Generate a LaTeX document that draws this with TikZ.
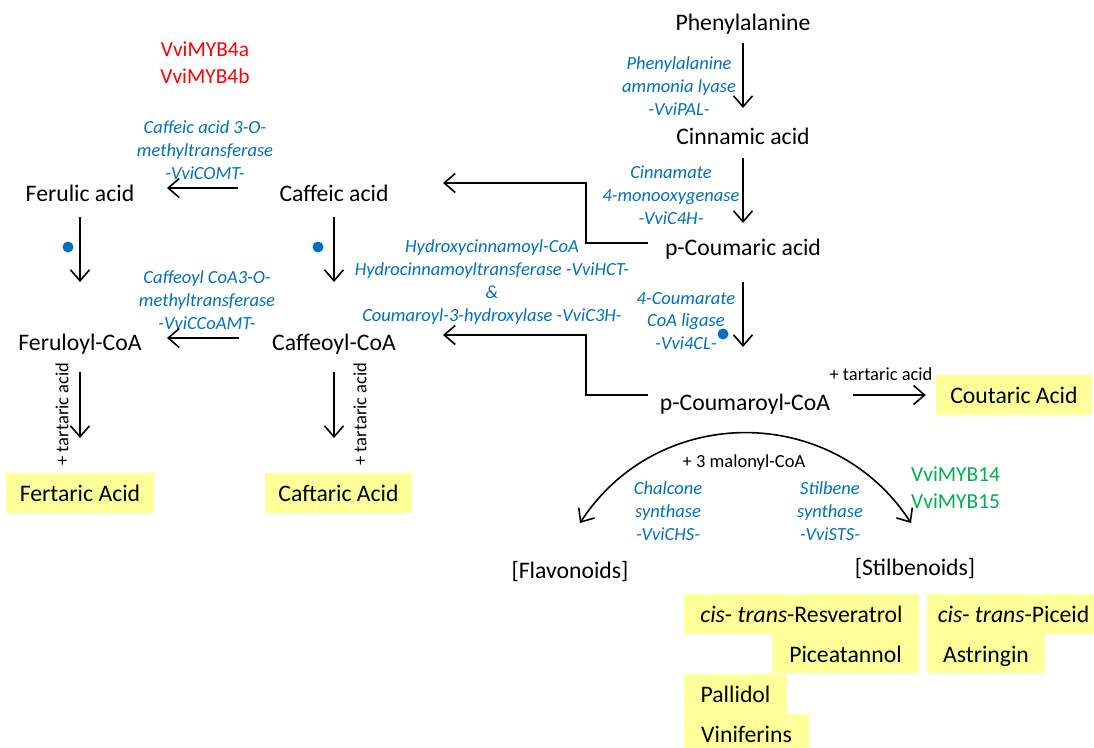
\documentclass[tikz,border=0pt]{standalone}
\usepackage{fontspec}
\setmainfont{Carlito}
\usetikzlibrary{arrows.meta,calc}
\definecolor{enzblue}{RGB}{0,112,192}
\definecolor{regred}{RGB}{255,0,0}
\definecolor{reggreen}{RGB}{0,176,80}
\definecolor{prodyellow}{RGB}{255,255,153}

\begin{document}
\begin{tikzpicture}[x=1pt,y=-1pt,
  cmpd/.style={inner sep=0pt, font=\fontsize{23.7}{28}\selectfont, text height=19pt, text depth=2pt},
  enz/.style={inner sep=0pt, align=center, text=enzblue, font=\fontsize{18.5}{22.8}\selectfont\itshape},
  note/.style={inner sep=0pt, font=\fontsize{18.5}{22}\selectfont},
  prod/.style={cmpd, fill=prodyellow, minimum height=40pt},
  reg/.style={inner sep=0pt, font=\fontsize{21.4}{27}\selectfont},
  arr/.style={line width=1.6pt, -{Straight Barb[length=11pt,width=19pt]}},
  biarr/.style={line width=1.6pt, {Straight Barb[length=11pt,width=19pt]}-{Straight Barb[length=11pt,width=19pt]}},
  site/.style={circle, fill=enzblue, inner sep=0pt, minimum size=11pt},
]
\useasboundingbox (0,0) rectangle (1094,747);
\fill[white] (0,0) rectangle (1094,747);

% compounds
\node[cmpd] (phe) at (743,22) {Phenylalanine};
\node[cmpd] (cin) at (743,136) {Cinnamic acid};
\node[cmpd] (pcoum) at (743,247) {p-Coumaric acid};
\node[cmpd] (pcoumcoa) at (745,402) {p-Coumaroyl-CoA};
\node[cmpd] (caffeic) at (334,193) {Caffeic acid};
\node[cmpd] (ferulic) at (80,193) {Ferulic acid};
\node[cmpd] (caffeoyl) at (334,342) {Caffeoyl-CoA};
\node[cmpd] (feruloyl) at (80,342) {Feruloyl-CoA};
\node[cmpd] (flav) at (570,570) {[Flavonoids]};
\node[cmpd] (stilb) at (915,567) {[Stilbenoids]};

% end products
\node[prod, minimum width=156pt] (coutaric) at (1014,395) {Coutaric Acid};
\node[prod, minimum width=148pt] (fertaric) at (80,493) {Fertaric Acid};
\node[prod, minimum width=147pt] (caftaric) at (338.5,493) {Caftaric Acid};
\node[prod, minimum width=235pt] (resv) at (801.5,614) {\textit{cis}- \textit{trans}-Resveratrol};
\node[prod, minimum width=147pt, minimum height=39pt] (picea) at (845.5,653.5) {Piceatannol};
\node[prod, minimum width=173pt] (piceid) at (1013.5,614) {\textit{cis}- \textit{trans}-Piceid};
\node[prod, minimum width=118pt, minimum height=39pt] (astr) at (986,653.5) {Astringin};
\node[prod, minimum width=103pt] (pall) at (735.5,694) {Pallidol};
\node[prod, minimum width=125pt] (vinif) at (746.5,734) {Viniferins};

% enzymes
\node[enz] (pal) at (679,86) {Phenylalanine\\ammonia lyase\\-VviPAL-};
\node[enz] (c4h) at (671,195) {Cinnamate\\4-monooxygenase\\-VviC4H-};
\node[enz] (fcl) at (686,321) {4-Coumarate\\CoA ligase\\-Vvi4CL-};
\node[enz] (comt) at (205,150) {Caffeic acid 3-O-\\methyltransferase\\-VviCOMT-};
\node[enz] (ccoamt) at (207,300) {Caffeoyl CoA3-O-\\methyltransferase\\-VviCCoAMT-};
\node[enz] (hct) at (492,282) {Hydroxycinnamoyl-CoA\\Hydrocinnamoyltransferase -VviHCT-\\\&\\Coumaroyl-3-hydroxylase -VviC3H-};
\node[enz] (chs) at (668,511) {Chalcone\\synthase\\-VviCHS-};
\node[enz] (sts) at (830,511) {Stilbene\\synthase\\-VviSTS-};

% transcription factors
\node[reg, text=regred, align=center] (myb4) at (205,62.5) {VviMYB4a\\VviMYB4b};
\node[reg, text=reggreen, align=left, anchor=west] (myb14) at (911,487.5) {VviMYB14\\VviMYB15};

% co-substrates
\node[note] (tart1) at (881,374) {+ tartaric acid};
\node[note, rotate=90] (tart2) at (62,414) {+ tartaric acid};
\node[note, rotate=90] (tart3) at (360,414) {+ tartaric acid};
\node[note] (malonyl) at (744,463) {+ 3 malonyl-CoA};

% marked steps
\node[site] (d1) at (68,247) {};
\node[site] (d2) at (318,247) {};
\node[site] (d3) at (723,334) {};

% main phenylpropanoid chain
\draw[arr, shorten <=21pt, shorten >=28pt] (phe.center) -- (phe.center |- cin.center);
\draw[arr, shorten <=22pt, shorten >=24pt] (cin.center) -- (cin.center |- pcoum.center);
\draw[arr, shorten <=35pt, shorten >=55pt] (pcoum.center) -- (pcoum.center |- pcoumcoa.center);

% hydroxycinnamic branch
\draw[arr, shorten <=24pt, shorten >=60pt] (ferulic.center) -- (ferulic.center |- feruloyl.center);
\draw[arr, shorten <=24pt, shorten >=60pt] (caffeic.center) -- (caffeic.center |- caffeoyl.center);
\draw[arr, shorten <=30pt, shorten >=55pt] (feruloyl.center) -- (feruloyl.center |- fertaric.center);
\draw[arr, shorten <=30pt, shorten >=55pt] (caffeoyl.center) -- (caffeoyl.center |- caftaric.center);
\draw[arr, shorten <=96pt, shorten >=87pt] ([yshift=5pt]caffeic.center) -- ([yshift=5pt]ferulic.center);
\draw[arr, shorten <=95pt, shorten >=87pt] ([yshift=4pt]caffeoyl.center) -- ([yshift=4pt]feruloyl.center);

% elbow connectors
\coordinate (j1) at (586,183);
\coordinate (j2) at (586,335);
\draw[arr, shorten <=95pt, shorten >=109pt] ([yshift=4pt]pcoum.center) -| (j1) -- (caffeic.center |- j1);
\draw[arr, shorten <=97pt, shorten >=109pt] ([yshift=7pt]pcoumcoa.center) -| (j2) -- (caffeoyl.center |- j2);
\draw[arr, shorten <=108pt, shorten >=10pt] ([yshift=7pt]pcoumcoa.center) -- (coutaric.west);

% chalcone / stilbene synthase split
\coordinate (aL) at (580,523);
\coordinate (aR) at (911,523);
\draw[biarr] (aL) .. controls +(78,-120) and +(-78,-120) .. (aR);
\end{tikzpicture}
\end{document}
